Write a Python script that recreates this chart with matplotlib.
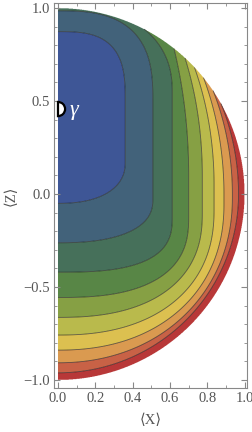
import numpy as np
import matplotlib
matplotlib.use("Agg")
import matplotlib.pyplot as plt
from matplotlib.patches import Wedge

# ---- data -----------------------------------------------------------------
# contour line k (1..9) geometry: right extent, bottom (at X=0), top (at X=0)
line_right  = [0.360, 0.508, 0.612, 0.700, 0.773, 0.836, 0.889, 0.934, 0.967]
line_bottom = [-0.050, -0.262, -0.420, -0.556, -0.663, -0.758, -0.839, -0.907, -0.961]
line_top    = [0.873, 0.985, 1.014, 1.580, 1.430, 1.350, 1.300, 1.216, 1.131]
corner_low  = [0.17, -0.03, -0.12, -0.12, -0.10, -0.08, -0.05, -0.02, 0.00]
corner_high = [0.50, 0.50, 0.55, 0.10, 0.10, 0.05, 0.00, 0.00, 0.00]
shape_low   = [2.3, 2.4, 2.8, 2.6, 2.4, 2.3, 2.2, 2.1, 2.0]
shape_high  = [3.0, 2.8, 2.3, 2.0, 2.0, 2.0, 2.0, 2.0, 2.0]

band_colors = ["#3e5696", "#42627a", "#46705a", "#588646", "#86a044",
               "#b9ba4c", "#dcc050", "#da9a50", "#c86246", "#b83838"]

marker_x, marker_z = 0.0, 0.457
marker_label = "γ"

x_ticks = [0.0, 0.2, 0.4, 0.6, 0.8, 1.0]
x_tick_labels = ["0.0", "0.2", "0.4", "0.6", "0.8", "1.0"]
z_ticks = [-1.0, -0.5, 0.0, 0.5, 1.0]
z_tick_labels = ["\u22121.0", "\u22120.5", "0.0", "0.5", "1.0"]

# ---- build field -----------------------------------------------------------
xs = np.linspace(0.0, 1.0, 601)
zs = np.linspace(-1.0, 1.0, 1201)
X, Z = np.meshgrid(xs, zs)
F = np.zeros_like(X)
w = 0.02
for k in range(len(line_right)):
    dx = X / line_right[k]
    lo, hi = corner_low[k], corner_high[k]
    dz = np.where(Z < lo, (lo - Z) / (lo - line_bottom[k]),
                  np.where(Z > hi, (Z - hi) / (line_top[k] - hi), 0.0))
    p = np.where(Z < lo, shape_low[k], shape_high[k])
    s = (dx ** p + dz ** p) ** (1.0 / p)
    F += np.clip((s - 1.0) / w + 0.5, 0.0, 1.0)
F = np.ma.masked_where(X ** 2 + Z ** 2 > 1.0, F)

# ---- figure ----------------------------------------------------------------
serif = ["Liberation Serif", "DejaVu Serif"]
fig = plt.figure(figsize=(2.53, 4.32), dpi=100)
ax = fig.add_axes([54.5 / 253, 1 - 387.7 / 432, (247.3 - 54.5) / 253, (387.7 - 3) / 432])

levels = np.arange(-0.5, len(band_colors), 1.0)
ax.contourf(X, Z, F, levels=levels, colors=band_colors, antialiased=True)
ax.contour(X, Z, F, levels=np.arange(0.5, len(band_colors) - 1, 1.0),
           colors="#1a1a1a", linewidths=0.6, alpha=0.65)

ax.add_patch(Wedge((marker_x, marker_z), 0.038, -90, 90, facecolor="white",
                   edgecolor="black", linewidth=1.6, zorder=5))
ax.text(marker_x + 0.06, marker_z - 0.01, marker_label, color="white", fontsize=16,
        style="italic", family=serif, ha="left", va="center", zorder=6)

ax.set_xlim(-0.0187, 1.014)
ax.set_ylim(-1.041, 1.027)

ax.set_xticks(x_ticks)
ax.set_xticklabels(x_tick_labels)
ax.set_yticks(z_ticks)
ax.set_yticklabels(z_tick_labels)
ax.set_xticks(np.arange(0.0, 1.001, 0.1), minor=True)
ax.set_yticks(np.arange(-1.0, 1.001, 0.1), minor=True)
ax.tick_params(which="both", direction="in", top=True, right=True,
               color="#888888", labelcolor="#555555", labelsize=10.5)
ax.tick_params(which="major", length=4, width=0.8, pad=3)
ax.tick_params(which="minor", length=2.2, width=0.6)
for lab in ax.get_xticklabels() + ax.get_yticklabels():
    lab.set_family(serif)
for sp in ax.spines.values():
    sp.set_color("#888888")
    sp.set_linewidth(0.8)

ax.set_xlabel("\u27e8X\u27e9", family=serif, fontsize=10.5, color="#555555", labelpad=6)
ax.set_ylabel("\u27e8Z\u27e9", family=serif, fontsize=10.5, color="#555555", labelpad=4)

fig.savefig("out.png", dpi=100)
